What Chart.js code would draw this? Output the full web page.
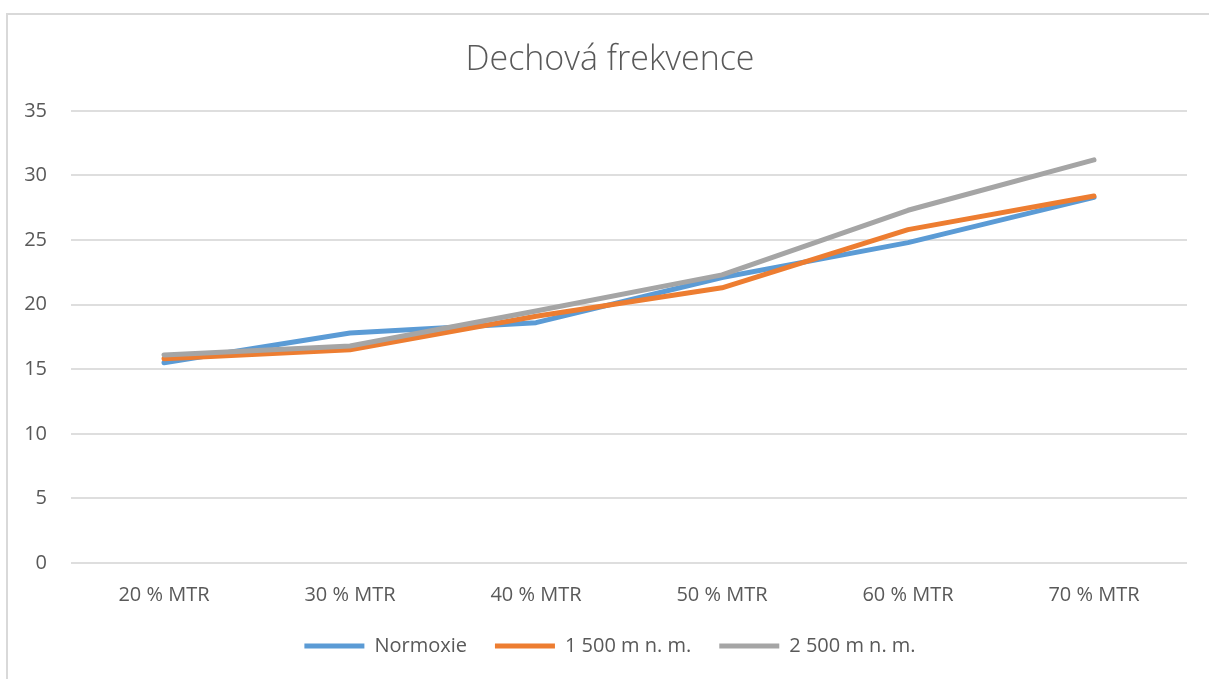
<!DOCTYPE html>
<html lang="cs">
<head>
<meta charset="utf-8">
<title>Dechová frekvence</title>
<script src="https://cdn.jsdelivr.net/npm/chart.js@4/dist/chart.umd.min.js"></script>
<style>
  html, body { margin: 0; padding: 0; background: #ffffff; overflow: hidden; }
  .frame {
    position: absolute; left: 6px; top: 13px; width: 1220px; height: 700px;
    border: 2px solid #d9d9d9; box-sizing: border-box;
  }
  .wrap { position: absolute; left: 0; top: 0; width: 1209px; height: 679px; }
</style>
</head>
<body>
<div class="frame"></div>
<div class="wrap"><canvas id="chart"></canvas></div>
<script>
// Zatížení v % maximální tepové rezervy
const categories = ['20 % MTR', '30 % MTR', '40 % MTR', '50 % MTR', '60 % MTR', '70 % MTR'];

// Dechová frekvence (dechy/min) podle podmínek
const normoxie = [15.5, 17.8, 18.6, 22.1, 24.8, 28.3];
const m1500 = [15.8, 16.5, 19.1, 21.3, 25.8, 28.4];
const m2500 = [16.1, 16.8, 19.5, 22.3, 27.3, 31.2];

const seriesNames = ['Normoxie', '1 500 m n. m.', '2 500 m n. m.'];
const seriesColors = ['#5B9BD5', '#ED7D31', '#A5A5A5'];

const yMin = 0, yMax = 35, yStep = 5;

const FONT = '"Open Sans", "Noto Sans", sans-serif';
const TEXT = '#595959';
const TICK_FONT = { family: FONT, size: 20 };
const Y_AXIS_W = 38;

function line(label, data, color, order) {
  return {
    label, data, order,
    borderColor: color,
    backgroundColor: color,
    borderWidth: 5,
    borderCapStyle: 'round',
    borderJoinStyle: 'round',
    pointRadius: 0,
    pointHoverRadius: 0,
    pointStyle: 'line',
    tension: 0,
    fill: false
  };
}

document.fonts.load(`${TICK_FONT.size}px ${FONT}`).finally(() => {
  // widest y label, so the right-aligned labels end 24px left of the plot
  const measureCtx = document.createElement('canvas').getContext('2d');
  measureCtx.font = `${TICK_FONT.size}px ${FONT}`;
  const yValues = [];
  for (let v = yMin; v <= yMax; v += yStep) yValues.push(v);
  const widest = Math.max(...yValues.map(v => measureCtx.measureText(String(v)).width));

  new Chart(document.getElementById('chart'), {
    type: 'line',
    data: {
      labels: categories,
      datasets: [
        line(seriesNames[0], normoxie, seriesColors[0], 3),
        line(seriesNames[1], m1500, seriesColors[1], 2),
        line(seriesNames[2], m2500, seriesColors[2], 1)
      ]
    },
    options: {
      responsive: true,
      maintainAspectRatio: false,
      animation: false,
      events: [],
      layout: { padding: { top: 0, right: 22, bottom: 13, left: 33 } },
      plugins: {
        title: {
          display: true,
          text: 'Dechová frekvence',
          color: TEXT,
          font: { family: FONT, size: 34, weight: '300', lineHeight: 1.2 },
          padding: { top: 40, bottom: 30 }
        },
        legend: {
          position: 'bottom',
          labels: {
            color: TEXT,
            font: { family: FONT, size: 20 },
            usePointStyle: true,
            pointStyleWidth: 60,
            boxHeight: 5,
            padding: 28,
            sort: (a, b) => a.datasetIndex - b.datasetIndex
          }
        },
        tooltip: { enabled: false }
      },
      scales: {
        x: {
          offset: true,
          grid: { display: false, drawTicks: false },
          border: { display: false },
          ticks: {
            color: TEXT,
            font: TICK_FONT,
            padding: 20,
            maxRotation: 0,
            autoSkip: false
          },
          afterFit: (scale) => { scale.height = 45; }
        },
        y: {
          min: yMin,
          max: yMax,
          grid: { color: '#dedede', lineWidth: 2, drawTicks: false },
          border: { display: false },
          ticks: {
            stepSize: yStep,
            color: TEXT,
            font: TICK_FONT,
            mirror: true,
            crossAlign: 'far',
            padding: -(24 + widest)
          },
          afterFit: (scale) => { scale.width = Y_AXIS_W; }
        }
      }
    }
  });
});
</script>
</body>
</html>
